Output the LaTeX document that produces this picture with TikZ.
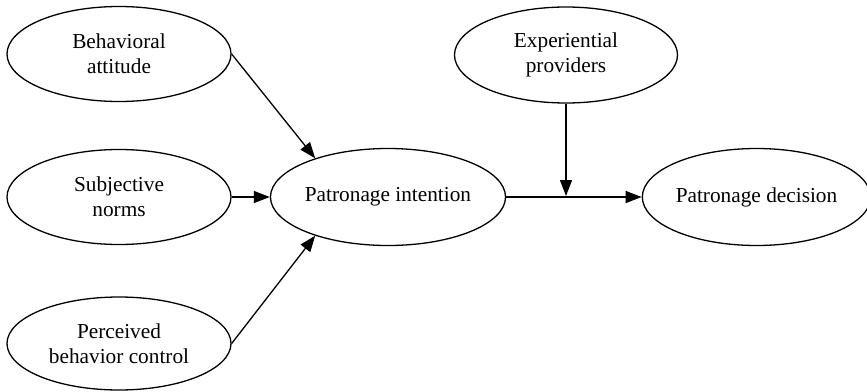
\documentclass[tikz,border=0pt]{standalone}
\usepackage{fontspec}
\setmainfont{Liberation Serif}
\usetikzlibrary{shapes.geometric,arrows.meta}
\tikzset{
  oval/.style={ellipse, draw, line width=1.3pt, inner sep=0pt, minimum width=224pt, minimum height=95pt, align=center, font=\fontsize{21.3}{25}\selectfont},
  arr/.style={line width=1.3pt, -{Triangle[length=16pt,width=12pt]}}
}
\begin{document}
\begin{tikzpicture}[x=1pt,y=-1pt]
\useasboundingbox (0,0) rectangle (867,391);
\node[oval] (BA) at (119,54) {Behavioral\\attitude};
\node[oval] (SN) at (119,197) {Subjective\\norms};
\node[oval, minimum height=93pt] (PBC) at (119,343.5) {Perceived\\behavior control};
\node[oval, minimum width=222pt, minimum height=97pt] (PI) at (388,197) {Patronage intention};
\node[oval, minimum width=223pt, minimum height=96pt] (EP) at (566,55) {Experiential\\providers};
\node[oval, minimum width=218pt, minimum height=97pt] (PD) at (756.5,197) {Patronage decision};
\coordinate (M) at (566,196);
\draw[arr] (BA.east) -- (PI.152);
\draw[arr] (SN.east) -- (PI.west);
\draw[arr] (PBC.east) -- (PI.-152);
\draw[arr] (PI.east) -- (PD.west);
\draw[arr] (EP.south) -- (M);
\end{tikzpicture}
\end{document}
